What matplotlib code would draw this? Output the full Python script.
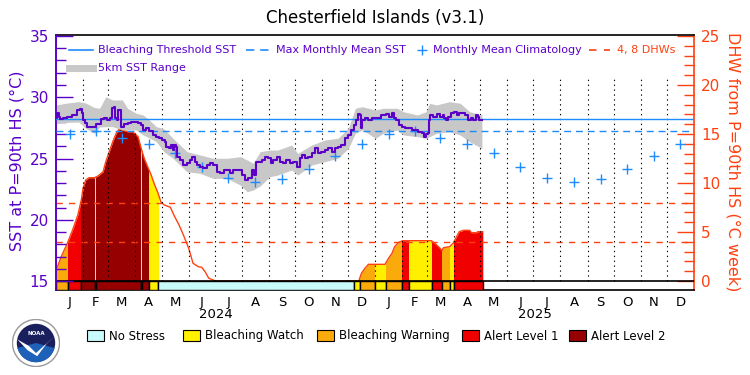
import numpy as np
import pandas as pd
import matplotlib
matplotlib.use('Agg')
import matplotlib.pyplot as plt
from matplotlib.patches import Rectangle, Circle, Wedge, Polygon
from matplotlib.lines import Line2D

title = 'Chesterfield Islands (v3.1)'
mmm = 27.24
threshold = 28.24
dhw_lines = [4, 8]
month_letters = ['J', 'F', 'M', 'A', 'M', 'J', 'J', 'A', 'S', 'O', 'N', 'D']
years = ['2024', '2025']
clim_sst = [26.98, 27.24, 26.71, 26.21, 25.49, 24.33, 23.38, 23.06, 23.30, 24.13, 25.22, 26.16]

# days since 2024-01-01
sst_day = [0, 2, 4, 6, 10, 15, 21, 27, 29, 31, 32, 34, 38, 44, 48, 54, 57, 61, 63, 65, 67, 69, 71, 72, 74,
           76, 80, 84, 88, 92, 95, 99, 101, 105, 109, 113, 117, 120, 124, 125, 127, 131, 133, 134, 136, 138,
           140, 144, 148, 152, 155, 157, 161, 163, 167, 171, 174, 178, 182, 186, 190, 194, 197, 201, 205,
           211, 215, 219, 222, 226, 228, 230, 234, 238, 241, 245, 247, 251, 255, 259, 262, 266, 270, 274,
           278, 280, 283, 287, 291, 295, 299, 302, 306, 310, 314, 318, 322, 325, 329, 333, 337, 340, 342,
           345, 347, 349, 350, 352, 356, 360, 364, 369, 375, 381, 383, 386, 388, 392, 394, 398, 402, 406,
           409, 413, 417, 421, 423, 425, 427, 428, 430, 434, 438, 442, 444, 446, 448, 451, 455, 457, 461,
           463, 467, 471, 474, 476, 480, 482, 484, 486, 488]
sst_val = [28.30, 28.69, 28.41, 28.22, 28.28, 28.41, 28.55, 28.96, 29.04, 28.69, 28.14, 27.87, 27.60,
           27.55, 27.79, 28.22, 28.28, 28.14, 28.28, 29.10, 29.23, 28.28, 28.14, 28.96, 28.96, 27.60, 27.79,
           27.87, 27.96, 28.00, 27.87, 27.73, 27.33, 27.47, 27.24, 26.92, 26.78, 26.65, 26.51, 26.37, 25.96,
           25.83, 26.10, 25.69, 26.10, 25.96, 25.15, 24.88, 24.47, 24.61, 24.88, 25.15, 24.74, 24.47, 24.33,
           24.20, 24.47, 24.61, 24.47, 23.92, 23.79, 24.06, 24.06, 23.79, 24.06, 24.06, 23.65, 23.24, 23.38,
           24.06, 23.65, 24.74, 24.74, 24.88, 25.15, 25.02, 24.61, 24.88, 25.15, 24.74, 24.61, 24.88, 24.61,
           24.74, 24.33, 25.02, 25.29, 25.02, 25.15, 25.42, 25.83, 25.42, 25.56, 25.69, 25.83, 25.56, 25.83,
           25.96, 26.10, 26.65, 26.92, 27.33, 27.73, 28.14, 28.61, 28.55, 27.47, 28.14, 28.28, 28.14, 28.28,
           28.33, 28.55, 28.61, 28.41, 28.69, 28.28, 28.14, 27.73, 27.60, 27.47, 27.47, 27.33, 27.33, 27.19,
           27.06, 26.78, 26.98, 27.06, 28.14, 28.55, 28.41, 28.61, 28.41, 28.55, 28.28, 28.14, 28.41, 28.69,
           28.82, 28.55, 28.69, 28.69, 28.55, 28.14, 28.28, 28.14, 28.55, 28.41, 28.14, 28.14]

band_day = [0, 11, 26, 34, 44, 50, 57, 65, 76, 82, 92, 100, 107, 115, 124, 134, 150, 165, 180, 196, 211,
            219, 226, 234, 245, 254, 270, 277, 293, 308, 323, 335, 343, 351, 366, 375, 391, 398, 414, 424,
            428, 436, 451, 463, 474, 488]
band_hi = [29.37, 29.51, 29.64, 29.53, 29.16, 29.10, 30.04, 29.78, 29.78, 29.10, 28.69, 28.55, 28.14, 27.60,
           27.41, 26.65, 25.56, 25.29, 25.02, 25.02, 25.15, 24.88, 24.61, 25.56, 25.69, 25.69, 26.10, 25.42,
           26.10, 26.51, 26.65, 27.47, 29.10, 29.23, 28.96, 29.10, 29.10, 28.82, 28.55, 28.82, 29.51, 29.37,
           29.64, 29.51, 28.82, 28.55]
band_lo = [27.87, 27.94, 27.98, 27.47, 27.06, 27.57, 27.60, 27.60, 27.33, 27.33, 27.33, 26.92, 26.67, 26.37,
           25.53, 25.02, 23.92, 23.79, 23.38, 23.38, 22.84, 22.29, 22.43, 22.76, 23.51, 23.65, 24.06, 23.65,
           24.47, 24.74, 25.02, 25.83, 27.06, 27.33, 26.65, 27.06, 27.33, 26.92, 26.78, 26.65, 26.78, 27.06,
           27.19, 26.92, 26.37, 25.83]

dhw_day = [0, 1, 6, 13, 19, 25, 29, 31, 34, 38, 44, 48, 54, 57, 61, 65, 69, 73, 76, 82, 88, 94, 97, 101,
           105, 109, 113, 117, 120, 124, 131, 136, 141, 146, 152, 157, 163, 167, 171, 175, 183, 347, 348,
           350, 354, 358, 377, 381, 385, 388, 392, 397, 430, 434, 440, 442, 444, 451, 455, 459, 462, 467,
           474, 476, 482, 483, 489]
dhw_val = [1.15, 1.30, 2.48, 3.85, 5.20, 6.73, 8.27, 9.46, 10.30, 10.54, 10.54, 10.71, 11.15, 12.17, 13.19,
           14.21, 15.07, 15.58, 15.41, 15.23, 15.23, 14.72, 13.70, 12.52, 11.66, 10.82, 9.80, 8.95, 8.09,
           7.76, 7.52, 6.56, 5.71, 4.69, 3.34, 1.81, 1.46, 1.40, 0.92, 0.28, 0.0, 0.0, 0.28, 0.79, 1.30, 1.70,
           1.70, 2.32, 2.83, 3.50, 3.91, 4.11, 4.11, 3.85, 3.34, 3.09, 3.40, 3.50, 3.85, 4.52, 5.03, 5.17,
           5.17, 4.93, 4.93, 5.03, 5.03]

# stress level segments: start day, end day, level (0 none .. 4 alert 2)
stress_start = [0, 14, 29, 45, 46, 97, 98, 106, 117, 342, 348, 366, 378, 397, 404, 431, 442, 452, 456]
stress_end = [14, 29, 45, 46, 97, 98, 106, 117, 342, 348, 366, 378, 397, 404, 431, 442, 452, 456, 489]
stress_level = [2, 3, 4, 1, 4, 1, 4, 1, 0, 1, 2, 1, 2, 3, 1, 3, 2, 1, 3]

stress_names = ['No Stress', 'Bleaching Watch', 'Bleaching Warning', 'Alert Level 1', 'Alert Level 2']
stress_colors = ['#c8fafa', '#fff000', '#faaa0a', '#f00000', '#960000']

PURPLE = '#5a00c8'
BLUE = '#1e8cff'
ORANGE = '#ff4010'
GRAY = '#c8c8c8'

start = pd.Timestamp('2024-01-01')
month_starts = pd.date_range('2024-01-01', '2026-01-01', freq='MS')
month_off = np.array((month_starts - start).days)
mid_off = (month_off[:-1] + month_off[1:]) / 2


def fx(x):
    return x / 750


def fy(y):
    return 1 - y / 375


fig = plt.figure(figsize=(7.5, 3.75), dpi=100)
ax2 = fig.add_axes([fx(56), fy(290), 638 / 750, 255 / 375])
ax = ax2.twinx()
ax.yaxis.tick_left()
ax2.yaxis.tick_right()
ax.set_zorder(ax2.get_zorder() + 1)
ax.patch.set_visible(False)

ax.set_xlim(0, month_off[-1])
ax2.set_xlim(0, month_off[-1])
ax.set_ylim(14.27, 35.08)
ax2.set_ylim(-0.92, 25.1)

# DHW fill, coloured by stress level
for s, e, lv in zip(stress_start, stress_end, stress_level):
    if lv == 0:
        continue
    poly = ax2.fill_between(dhw_day, 0, dhw_val, color=stress_colors[lv], lw=0, zorder=1)
    clip = Rectangle((s, -1), e - s, 30, transform=ax2.transData)
    poly.set_clip_path(clip)
ax2.plot(dhw_day, dhw_val, color=ORANGE, lw=1, zorder=3)
for d in dhw_lines:
    ax2.axhline(d, color=ORANGE, lw=1, ls=(0, (4.5, 4.5)), zorder=3)

widths = np.array(stress_end) - np.array(stress_start)
ax2.bar(x=stress_start, height=0.92, width=widths, bottom=-0.92, align='edge',
        color=[stress_colors[l] for l in stress_level], edgecolor='black', lw=1, zorder=4)
ax2.axhline(0, color='black', lw=1.2, zorder=5)

# SST layer
ax.vlines(month_off[1:-1], 15.0, 31.65, colors='black', linestyles=(0, (1.2, 3.2)), lw=0.8, zorder=1)
ax.fill_between(band_day, band_lo, band_hi, color=GRAY, lw=0, zorder=2)
ax.axhline(threshold, color=BLUE, lw=1, zorder=3)
ax.axhline(mmm, color=BLUE, lw=1, ls=(0, (5, 3.5)), zorder=3)
ax.plot(mid_off, clim_sst * 2, ls='none', marker='+', ms=7.5, mew=1, color=BLUE, zorder=4)
ax.plot(sst_day, sst_val, color=PURPLE, lw=1.5, drawstyle='steps-mid', zorder=5)

# axes styling
ax.set_yticks(range(15, 36, 5))
ax.set_yticks(range(15, 36), minor=True)
ax2.set_yticks(range(0, 26, 5))
ax2.set_yticks(range(0, 26), minor=True)
ax.tick_params(axis='y', which='major', direction='in', length=12, width=1, color=PURPLE,
               labelcolor=PURPLE, labelsize=11, pad=5)
ax.tick_params(axis='y', which='minor', direction='in', length=7, width=1, color=PURPLE)
ax2.tick_params(axis='y', which='major', direction='in', length=12, width=1, color=ORANGE,
                labelcolor=ORANGE, labelsize=11, pad=5)
ax2.tick_params(axis='y', which='minor', direction='in', length=7, width=1, color=ORANGE)
ax.set_xticks([])
ax2.set_xticks(mid_off)
ax2.set_xticklabels(month_letters * 2, fontsize=9.5)
ax2.tick_params(axis='x', length=0, pad=4)

for sp in ['left', 'right', 'top', 'bottom']:
    ax.spines[sp].set_visible(False)
ax2.spines['left'].set_color(PURPLE)
ax2.spines['right'].set_color(ORANGE)
ax2.spines['top'].set_color('black')
ax2.spines['bottom'].set_color('black')
for sp in ax2.spines.values():
    sp.set_linewidth(1.2)
ax.spines['left'].set_visible(True)
ax.spines['left'].set_color(PURPLE)
ax.spines['left'].set_linewidth(1.2)

for i, yr in enumerate(years):
    ax2.text((month_off[12 * i] + month_off[12 * i + 12]) / 2, -25 / 255, yr, fontsize=9.5,
             ha='center', va='center', transform=ax2.get_xaxis_transform())

fig.text(fx(375), fy(18), title, ha='center', va='center', fontsize=12)
fig.text(fx(17), fy(161), 'SST at P=90th HS (°C)', rotation=90, ha='center', va='center',
         fontsize=11.5, color=PURPLE)
fig.text(fx(733), fy(162), 'DHW from P=90th HS (°C week)', rotation=-90, ha='center', va='center',
         fontsize=11.5, color=ORANGE)

# top legend
fig.add_artist(Line2D([fx(69), fx(93)], [fy(50), fy(50)], color=BLUE, lw=1.2))
fig.text(fx(98), fy(50), 'Bleaching Threshold SST', color=PURPLE, fontsize=8, va='center')
fig.add_artist(Line2D([fx(246), fx(270)], [fy(50), fy(50)], color=BLUE, lw=1.2, ls=(0, (5, 3.5))))
fig.text(fx(276), fy(50), 'Max Monthly Mean SST', color=PURPLE, fontsize=8, va='center')
fig.add_artist(Line2D([fx(422)], [fy(50)], color=BLUE, marker='+', ms=7.5, mew=1, ls='none'))
fig.text(fx(433), fy(50), 'Monthly Mean Climatology', color=PURPLE, fontsize=8, va='center')
fig.add_artist(Line2D([fx(589), fx(610)], [fy(50), fy(50)], color=ORANGE, lw=1.2, ls=(0, (4.5, 4.5))))
fig.text(fx(617), fy(50), '4, 8 DHWs', color=ORANGE, fontsize=8, va='center')
fig.add_artist(Line2D([fx(69), fx(93)], [fy(68), fy(68)], color=GRAY, lw=5))
fig.text(fx(98), fy(68), '5km SST Range', color=PURPLE, fontsize=8, va='center')

# bottom legend
box_x = [87, 183, 317, 462, 569]
for bx, name, col in zip(box_x, stress_names, stress_colors):
    fig.add_artist(Rectangle((fx(bx), fy(341)), 17 / 750, 11 / 375, transform=fig.transFigure,
                             fc=col, ec='black', lw=0.8))
    fig.text(fx(bx + 22), fy(336), name, fontsize=8.5, va='center')

# NOAA logo
lax = fig.add_axes([fx(12), fy(367), 48 / 750, 48 / 375])
lax.set_xlim(-1, 1)
lax.set_ylim(-1, 1)
lax.set_aspect('equal')
lax.axis('off')
lax.add_patch(Circle((0, 0), 0.98, fc='white', ec='#9a9a9a', lw=1))
lax.add_patch(Circle((0, 0), 0.8, fc='#1a1f5e', ec='none'))
lax.add_patch(Wedge((0, 0), 0.8, 195, 345, fc='#1d62b8', ec='none'))
lax.add_patch(Polygon([(-0.78, 0.15), (-0.3, -0.12), (0.0, -0.42), (0.35, -0.1), (0.8, 0.3),
                       (0.45, -0.02), (0.05, -0.55), (-0.35, -0.3)], fc='white', ec='none'))
lax.text(0, 0.38, 'NOAA', color='white', fontsize=4, fontweight='bold', ha='center', va='center')

fig.savefig('out.png', dpi=100)
